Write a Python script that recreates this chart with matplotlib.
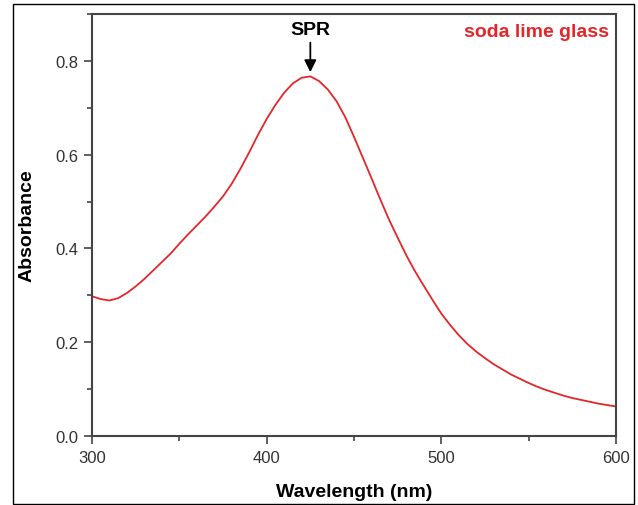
import matplotlib
matplotlib.use("Agg")
import matplotlib.pyplot as plt
from matplotlib.patches import Rectangle
from matplotlib.ticker import MultipleLocator

plt.rcParams['font.family'] = ['Liberation Sans', 'DejaVu Sans']

wavelength = list(range(300, 601, 5))
absorbance = [
    0.298, 0.292, 0.289, 0.294, 0.305, 0.319, 0.335, 0.353, 0.371, 0.389,
    0.410, 0.430, 0.449, 0.468, 0.489, 0.511, 0.538, 0.570, 0.605, 0.642,
    0.676, 0.706, 0.732, 0.752, 0.764, 0.767, 0.757, 0.739, 0.714, 0.680,
    0.638, 0.594, 0.550, 0.505, 0.462, 0.423, 0.385, 0.351, 0.320, 0.290,
    0.261, 0.237, 0.215, 0.196, 0.180, 0.166, 0.153, 0.142, 0.131, 0.122,
    0.113, 0.105, 0.098, 0.092, 0.086, 0.081, 0.077, 0.073, 0.069, 0.066,
    0.063,
]
x_ticks = [300, 400, 500, 600]
y_ticks = [0.0, 0.2, 0.4, 0.6, 0.8]
peak_label = "SPR"
peak_wl = 425
sample_label = "soda lime glass"

fig = plt.figure(figsize=(6.38, 5.06), dpi=100)
ax = fig.add_axes([92/638, 69/506, (616-92)/638, (437-15)/506])

ax.plot(wavelength, absorbance, color='#e3262a', lw=1.3)
ax.set_xlim(300, 600)
ax.set_ylim(0, 0.9)
ax.set_xticks(x_ticks)
ax.set_yticks(y_ticks)
ax.set_yticklabels([f"{v:.1f}" for v in y_ticks])
ax.xaxis.set_minor_locator(MultipleLocator(50))
ax.yaxis.set_minor_locator(MultipleLocator(0.1))

for s in ax.spines.values():
    s.set_color('#444444')
    s.set_linewidth(1.5)
ax.tick_params(which='major', direction='out', length=6, width=1.2, color='#444444',
               labelsize=12, labelcolor='#333333', pad=4)
ax.tick_params(which='minor', direction='out', length=3.5, width=1.2, color='#444444')

ax.set_xlabel("Wavelength (nm)", fontsize=14, fontweight='bold', labelpad=13)
ax.set_ylabel("Absorbance", fontsize=14, fontweight='bold', labelpad=14)

ax.annotate(peak_label, xy=(peak_wl, 0.776), xytext=(peak_wl, 0.866),
            ha='center', va='center', fontsize=14, fontweight='bold',
            arrowprops=dict(arrowstyle='-|>', color='black', lw=1.3,
                            mutation_scale=18, shrinkA=1, shrinkB=0))
ax.text(596, 0.862, sample_label, color='#e3262a', fontsize=14, fontweight='bold',
        ha='right', va='center')

fig.patches.append(Rectangle((13/638, 1/506), (634-13)/638, (501-1)/506,
                             transform=fig.transFigure, fill=False,
                             edgecolor='black', lw=1.0))

fig.savefig("out.png", dpi=100)
